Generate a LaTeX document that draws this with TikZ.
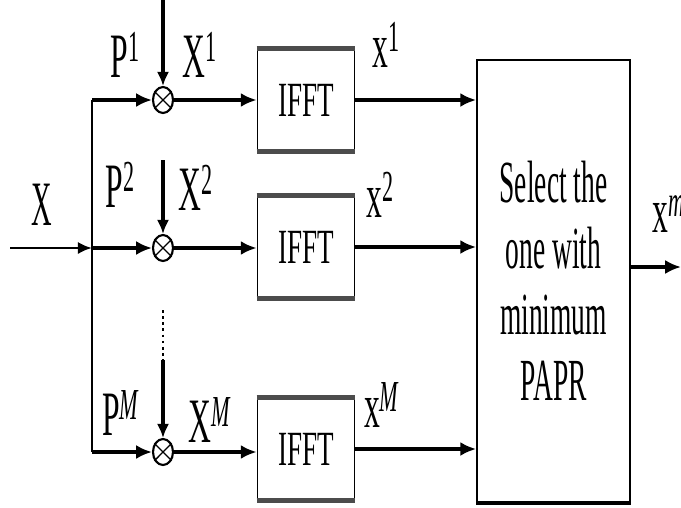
\documentclass[tikz,border=0pt]{standalone}
\usepackage{fontspec}
\setmainfont{Liberation Serif}
\usetikzlibrary{arrows.meta,shapes.geometric}
\newcommand{\nar}[2][0.5]{\scalebox{#1}[1]{#2}}

\begin{document}
\begin{tikzpicture}[x=0.02cm,y=-0.02cm,
    sig/.style={line width=2.6pt,-{Latex[length=9pt,width=8pt]}},
    dn/.style={line width=1.8pt,-{Latex[length=8pt,width=7pt]}},
    bus/.style={line width=1.4pt},
    mult/.style={ellipse,draw,line width=1.2pt,minimum width=0.4cm,minimum height=0.52cm,inner sep=0pt},
    ifftbox/.style={draw,line width=1pt,minimum width=1.94cm,minimum height=2.02cm,font=\fontsize{28}{30}\selectfont},
    selbox/.style={draw,line width=1pt,minimum width=3.06cm,minimum height=8.84cm,align=center,font=\fontsize{34}{37.6}\selectfont},
    edge/.style={line width=2.6pt,gray!60!black},
    lbl/.style={font=\fontsize{36}{38}\selectfont,inner sep=0pt}]
  \useasboundingbox (0,0) rectangle (681,508);

  % multipliers
  \node[mult] (m1) at (163,100) {};
  \node[mult] (m2) at (163,248) {};
  \node[mult] (mM) at (163,452) {};
  \foreach \m in {m1,m2,mM}
    \draw[line width=0.8pt] (\m.45) -- (\m.225) (\m.135) -- (\m.315);

  % IFFT blocks
  \node[ifftbox] (f1) at (306,100) {\nar[0.55]{IFFT}};
  \node[ifftbox] (f2) at (306,247) {\nar[0.55]{IFFT}};
  \node[ifftbox] (fM) at (306,449) {\nar[0.55]{IFFT}};
  \foreach \f in {f1,f2,fM}
    \draw[edge] (\f.north west) -- (\f.north east) (\f.south west) -- (\f.south east);

  % selector
  \node[selbox] (sel) at (553.5,281) {\nar[0.46]{Select the}\\ \nar[0.46]{one with}\\ \nar[0.46]{minimum}\\ \nar[0.46]{PAPR}};
  \draw[edge,black] (sel.south west) -- (sel.south east);

  % input and branch
  \coordinate (in) at (10,248);
  \coordinate (br) at (92,248);
  \draw[line width=1.6pt,-{Latex[length=8pt,width=7pt]}] (in) -- (br);
  \draw[bus] (br |- m1) -- (br |- mM);
  \draw[sig] (br |- m1) -- (m1.west);
  \draw[sig] (br) -- (m2.west);
  \draw[sig] (br |- mM) -- (mM.west);

  % phase sequences from above
  \coordinate (t1) at (163,0);
  \coordinate (t2) at (163,160);
  \coordinate (tM) at (163,310);
  \coordinate (tMs) at (163,360);
  \draw[dn] (t1) -- (m1.north);
  \draw[dn] (t2) -- (m2.north);
  \draw[dotted,line width=1.5pt] (tM) -- (tMs);
  \draw[dn] (tMs) -- (mM.north);

  % to IFFT and selector
  \draw[sig] (m1.east) -- (m1.east -| f1.west);
  \draw[sig] (m2.east) -- (m2.east -| f2.west);
  \draw[sig] (mM.east) -- (mM.east -| fM.west);
  \draw[sig] (f1.east) -- (f1.east -| sel.west);
  \draw[sig] (f2.east) -- (f2.east -| sel.west);
  \draw[sig] (fM.east) -- (fM.east -| sel.west);
  \coordinate (out) at (681,267);
  \draw[sig] (sel.east |- out) -- (out);

  % labels
  \node[lbl] (lx) at (42,205) {\nar[0.45]{X}};
  \node[lbl] (lp1) at (125,55) {\nar{P\textsuperscript{1}}};
  \node[lbl] (lX1) at (200,55) {\nar{X\textsuperscript{1}}};
  \node[lbl] (lp2) at (120,185) {\nar{P\textsuperscript{2}}};
  \node[lbl] (lX2) at (196,188) {\nar{X\textsuperscript{2}}};
  \node[lbl] (lpM) at (121,413) {\nar{P\textsuperscript{\textit{M}}}};
  \node[lbl] (lXM) at (210,420) {\nar{X\textsuperscript{\textit{M}}}};
  \node[lbl] (lx1) at (386,45) {\nar{x\textsuperscript{1}}};
  \node[lbl] (lx2) at (380,195) {\nar{x\textsuperscript{2}}};
  \node[lbl] (lxM) at (382,405) {\nar{x\textsuperscript{\textit{M}}}};
  \node[lbl,anchor=west] (lxo) at (652,208) {\nar{x\textsuperscript{\textit{m}$'$}}};
\end{tikzpicture}
\end{document}
